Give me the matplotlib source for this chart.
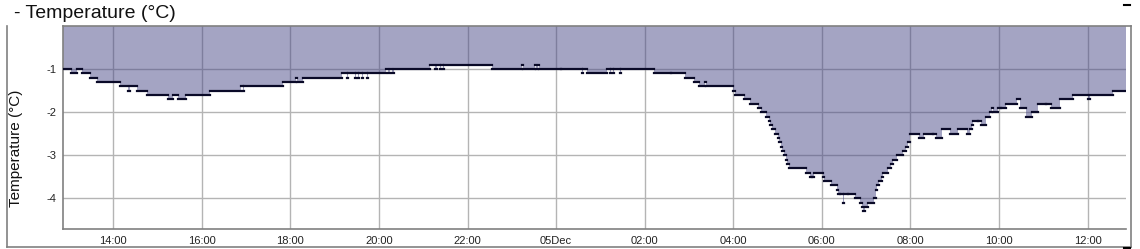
import matplotlib
matplotlib.use("Agg")
import matplotlib.pyplot as plt
import matplotlib.dates as mdates
from matplotlib.lines import Line2D
import pandas as pd
import datetime as dt

plt.rcParams['font.family'] = ['Liberation Sans', 'DejaVu Sans']

# ---- data ----
times = [
    "12-04 12:52", "12-04 13:03", "12-04 13:11", "12-04 13:18", "12-04 13:29", "12-04 13:38",
    "12-04 14:09", "12-04 14:20", "12-04 14:23", "12-04 14:32", "12-04 14:46", "12-04 15:14",
    "12-04 15:21", "12-04 15:28", "12-04 15:39", "12-04 16:11", "12-04 16:53", "12-04 16:56",
    "12-04 16:57", "12-04 17:50", "12-04 18:08", "12-04 18:09", "12-04 18:17", "12-04 19:10",
    "12-04 19:17", "12-04 19:18", "12-04 19:28", "12-04 19:29", "12-04 19:32", "12-04 19:33",
    "12-04 19:37", "12-04 19:39", "12-04 19:44", "12-04 19:45", "12-04 20:10", "12-04 20:12",
    "12-04 20:15", "12-04 20:18", "12-04 20:21", "12-04 21:09", "12-04 21:16", "12-04 21:18",
    "12-04 21:23", "12-04 21:24", "12-04 21:27", "12-04 21:28", "12-04 22:33", "12-04 23:14",
    "12-04 23:15", "12-04 23:32", "12-04 23:33", "12-04 23:36", "12-04 23:37", "12-05 00:06",
    "12-05 00:07", "12-05 00:35", "12-05 00:37", "12-05 00:42", "12-05 01:09", "12-05 01:13",
    "12-05 01:15", "12-05 01:17", "12-05 01:19", "12-05 01:27", "12-05 01:28", "12-05 02:12",
    "12-05 02:35", "12-05 02:36", "12-05 02:54", "12-05 03:07", "12-05 03:13", "12-05 03:22",
    "12-05 03:23", "12-05 04:00", "12-05 04:03", "12-05 04:14", "12-05 04:22", "12-05 04:33",
    "12-05 04:38", "12-05 04:45", "12-05 04:48", "12-05 04:50", "12-05 04:53", "12-05 04:57",
    "12-05 05:00", "12-05 05:02", "12-05 05:05", "12-05 05:06", "12-05 05:09", "12-05 05:11",
    "12-05 05:13", "12-05 05:15", "12-05 05:39", "12-05 05:44", "12-05 05:46", "12-05 05:47",
    "12-05 05:50", "12-05 06:01", "12-05 06:03", "12-05 06:13", "12-05 06:20", "12-05 06:22",
    "12-05 06:24", "12-05 06:25", "12-05 06:29", "12-05 06:30", "12-05 06:35", "12-05 06:36",
    "12-05 06:45", "12-05 06:51", "12-05 06:55", "12-05 06:56", "12-05 06:58", "12-05 07:03",
    "12-05 07:11", "12-05 07:14", "12-05 07:15", "12-05 07:18", "12-05 07:21", "12-05 07:23",
    "12-05 07:29", "12-05 07:33", "12-05 07:37", "12-05 07:42", "12-05 07:50", "12-05 07:54",
    "12-05 07:57", "12-05 08:00", "12-05 08:11", "12-05 08:18", "12-05 08:19", "12-05 08:30",
    "12-05 08:31", "12-05 08:35", "12-05 08:43", "12-05 08:53", "12-05 09:04", "12-05 09:16",
    "12-05 09:20", "12-05 09:24", "12-05 09:25", "12-05 09:31", "12-05 09:32", "12-05 09:35",
    "12-05 09:43", "12-05 09:48", "12-05 09:50", "12-05 09:52", "12-05 09:58", "12-05 10:02",
    "12-05 10:03", "12-05 10:09", "12-05 10:25", "12-05 10:29", "12-05 10:36", "12-05 10:44",
    "12-05 10:53", "12-05 11:03", "12-05 11:04", "12-05 11:11", "12-05 11:22", "12-05 11:40",
    "12-05 12:01", "12-05 12:03", "12-05 12:35", "12-05 12:52",
]
temps = [
    -1.0, -1.1, -1.0, -1.1, -1.2, -1.3,
    -1.4, -1.5, -1.4, -1.5, -1.6, -1.7,
    -1.6, -1.7, -1.6, -1.5, -1.4, -1.5,
    -1.4, -1.3, -1.2, -1.3, -1.2, -1.1,
    -1.2, -1.1, -1.2, -1.1, -1.2, -1.1,
    -1.2, -1.1, -1.2, -1.1, -1.0, -1.1,
    -1.0, -1.1, -1.0, -0.9, -1.0, -0.9,
    -1.0, -0.9, -1.0, -0.9, -1.0, -0.9,
    -1.0, -0.9, -1.0, -0.9, -1.0, -1.1,
    -1.0, -1.1, -1.0, -1.1, -1.0, -1.1,
    -1.0, -1.1, -1.0, -1.1, -1.0, -1.1,
    -1.2, -1.1, -1.2, -1.3, -1.4, -1.3,
    -1.4, -1.5, -1.6, -1.7, -1.8, -1.9,
    -2.0, -2.1, -2.2, -2.3, -2.4, -2.5,
    -2.6, -2.7, -2.8, -2.9, -3.0, -3.1,
    -3.2, -3.3, -3.4, -3.5, -3.6, -3.5,
    -3.4, -3.5, -3.6, -3.7, -3.8, -3.9,
    -4.1, -3.9, -4.1, -3.9, -4.0, -3.9,
    -4.0, -4.1, -4.2, -4.3, -4.2, -4.1,
    -4.0, -3.8, -3.7, -3.6, -3.5, -3.4,
    -3.3, -3.2, -3.1, -3.0, -2.9, -2.8,
    -2.7, -2.5, -2.6, -2.7, -2.5, -2.6,
    -2.5, -2.6, -2.4, -2.5, -2.4, -2.5,
    -2.4, -2.3, -2.2, -2.1, -2.2, -2.3,
    -2.1, -2.0, -1.9, -2.0, -1.9, -2.0,
    -1.9, -1.8, -1.7, -1.9, -2.1, -2.0,
    -1.8, -1.7, -1.8, -1.9, -1.7, -1.6,
    -1.7, -1.6, -1.5, -1.5,
]
y_ticks = [-1, -2, -3, -4]
title_text = "- Temperature (°C)"
ylabel_text = "Temperature (°C)"

t = pd.to_datetime(["2023-" + s for s in times], format="%Y-%m-%d %H:%M")
tn = mdates.date2num(t.to_pydatetime())

W, H = 1140, 249
fig = plt.figure(figsize=(W / 100, H / 100), dpi=100)
L, R, T, B = 63, 1126, 26, 229
ax = fig.add_axes([L / W, 1 - B / H, (R - L) / W, (B - T) / H])

ax.set_xlim(tn[0], tn[-1])
ax.set_ylim(-4.71, 0)

ax.fill_between(tn, temps, 0, step="post", color="#4a4a88", alpha=0.5,
                linewidth=0, zorder=2)
lc = ax.hlines(temps[:-1], tn[:-1], tn[1:], colors="#0a0a28", linewidth=1.6, zorder=3)
lc.set_capstyle("projecting")

# ticks
start = dt.datetime(2023, 12, 4, 14, 0)
xt = [start + dt.timedelta(hours=2 * i) for i in range(12)]
ax.set_xticks(mdates.date2num(xt))
ax.set_xticklabels([("%02dDec" % d.day) if d.hour == 0 else d.strftime("%H:%M") for d in xt])
ax.set_yticks(y_ticks)
ax.set_yticklabels([str(v) for v in y_ticks])
ax.tick_params(length=0, labelsize=8, colors="#222222")
ax.tick_params(axis="x", pad=5)
ax.tick_params(axis="y", pad=5)

ax.set_axisbelow(True)
ax.grid(True, color="#b4b4b4", linewidth=1.0)

for s in ["top", "right"]:
    ax.spines[s].set_visible(False)
for s in ["left", "bottom"]:
    ax.spines[s].set_color("#808080")
    ax.spines[s].set_linewidth(1.2)

# outer frame
def px_line(x0, y0, x1, y1, color="#808080", lw=1.2):
    fig.add_artist(Line2D([x0 / W, x1 / W], [1 - y0 / H, 1 - y1 / H],
                          color=color, linewidth=lw, transform=fig.transFigure))

px_line(L, T, 1131, T)
px_line(1131, T, 1131, 247)
px_line(7, 247, 1131, 247)
px_line(7, T, 7, 247)
px_line(1124, 5, 1130, 5, color="#000000", lw=1.5)
px_line(1124, 247.5, 1130, 247.5, color="#000000", lw=1.5)

fig.text(14 / W, 1 - 14 / H, title_text, fontsize=14, va="center", ha="left", color="#111111")
fig.text(16 / W, 1 - 148 / H, ylabel_text, fontsize=11, va="center", ha="center",
         rotation=90, color="#111111")

fig.savefig("out.png", dpi=100)
